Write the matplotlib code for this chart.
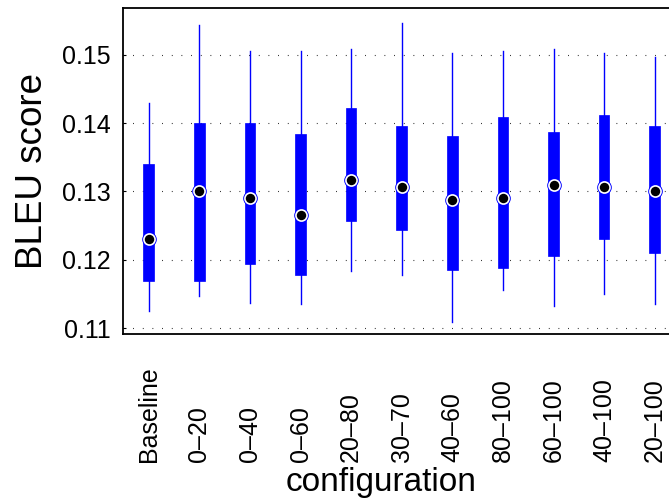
import matplotlib
matplotlib.use("Agg")
import matplotlib.pyplot as plt
import numpy as np

plt.rcParams['font.family'] = ['Liberation Sans', 'DejaVu Sans']

configs = ["Baseline", "0\u201320", "0\u201340", "0\u201360", "20\u201380", "30\u201370",
           "40\u201360", "80\u2013100", "60\u2013100", "40\u2013100", "20\u2013100"]
whisker_low = [0.1125, 0.1147, 0.1137, 0.1135, 0.1184, 0.1178, 0.1109, 0.1156, 0.1132, 0.1150, 0.1135]
q1 = [0.1169, 0.1169, 0.1194, 0.1178, 0.1257, 0.1244, 0.1185, 0.1188, 0.1206, 0.1231, 0.1210]
median = [0.1231, 0.1300, 0.1291, 0.1265, 0.1316, 0.1306, 0.1288, 0.1291, 0.1310, 0.1306, 0.1300]
q3 = [0.1340, 0.1400, 0.1400, 0.1384, 0.1422, 0.1396, 0.1381, 0.1409, 0.1387, 0.1412, 0.1396]
whisker_high = [0.1430, 0.1543, 0.1505, 0.1505, 0.1509, 0.1546, 0.1503, 0.1505, 0.1509, 0.1502, 0.1496]
yticks = [0.11, 0.12, 0.13, 0.14, 0.15]

fig = plt.figure(figsize=(6.69, 5.0), dpi=100)
W, H = 669, 500
left, right, top, bottom = 123.5, 680.0, 8.0, 333.5
ax = fig.add_axes([left / W, 1 - bottom / H, (right - left) / W, (bottom - top) / H])

positions = np.arange(1, len(configs) + 1)
stats = []
for i in range(len(configs)):
    stats.append(dict(med=median[i], q1=q1[i], q3=q3[i],
                      whislo=whisker_low[i], whishi=whisker_high[i], fliers=[]))

blue = (0, 0, 1)
ax.bxp(stats, positions=positions, widths=0.21, showcaps=False, showfliers=False,
       patch_artist=True,
       boxprops=dict(facecolor=blue, edgecolor=blue, linewidth=0.5),
       whiskerprops=dict(color=blue, linewidth=1.0),
       medianprops=dict(linewidth=0, color=blue))
ax.plot(positions, median, linestyle='none', marker='o', markersize=9.5,
        markerfacecolor=blue, markeredgecolor=blue, zorder=4)
ax.plot(positions, median, linestyle='none', marker='o', markersize=8.0,
        markerfacecolor='black', markeredgecolor='white', markeredgewidth=1.2, zorder=5)

ax.set_xlim(0.5, len(configs) + 0.5)
ax.set_ylim(0.1092, 0.15683)
ax.set_yticks(yticks)
ax.set_yticklabels([f"{v:.2f}" for v in yticks], fontsize=18)
ax.yaxis.grid(True, color='black', linestyle=(0, (0.7, 8.0)), linewidth=0.8)
ax.set_axisbelow(True)
ax.tick_params(axis='y', direction='in', length=2.2, width=0.8, pad=9)
ax.tick_params(axis='x', length=0)
ax.set_xticks(positions)
ax.set_xticklabels([])
for p, lab in zip(positions, configs):
    ax.text(p, -0.394, lab, transform=ax.get_xaxis_transform(), rotation=90,
            ha='center', va='bottom', fontsize=18, rotation_mode='default')

for s in ax.spines.values():
    s.set_linewidth(1.3)
    s.set_color('black')

ax.set_ylabel("BLEU score", fontsize=26.5)
ax.yaxis.set_label_coords(-0.132, 0.5)
ax.text(0.462, -0.483, "configuration", transform=ax.transAxes, ha='center',
        va='baseline', fontsize=24)

fig.savefig("out.png", dpi=100)
